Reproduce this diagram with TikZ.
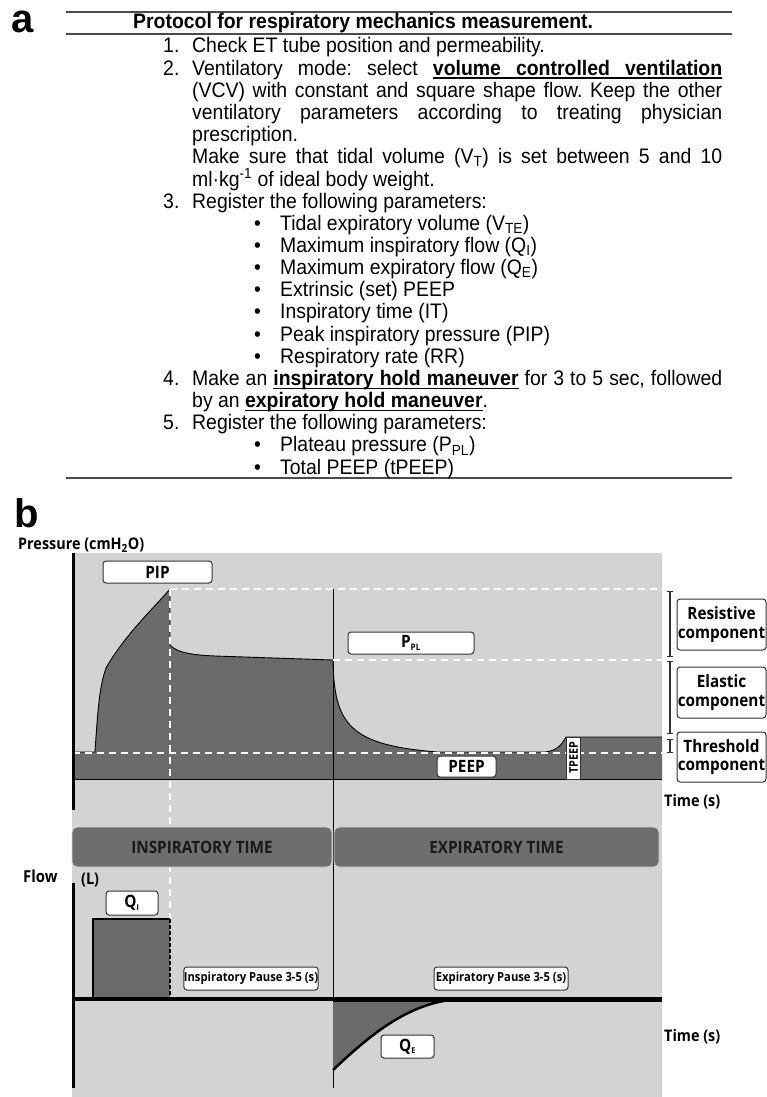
\documentclass[tikz,border=0pt]{standalone}
\usepackage{fontspec}
\setmainfont[FakeStretch=0.925]{Liberation Sans}
\newfontfamily\plainarial{Liberation Sans}
\newfontfamily\labfont[FakeStretch=0.9]{Open Sans}
\newcommand\ulw[1]{\setbox0\hbox{#1}\rlap{\vrule height -2.2pt depth 3.6pt width\wd0}\box0}
\newcommand\uls{\leaders\hrule height -2.2pt depth 3.6pt\hskip\fontdimen2\font plus\fontdimen3\font minus\fontdimen4\font\relax}
\frenchspacing
\usetikzlibrary{arrows.meta}
\definecolor{panel}{HTML}{D3D3D3}
\definecolor{darkfill}{HTML}{6B6B6B}
\definecolor{bandfill}{HTML}{6E6E6E}
\definecolor{rulegray}{HTML}{4A4A4A}
\definecolor{boxline}{HTML}{333333}
\tikzset{
  txt/.style={anchor=base west, inner sep=0pt, font=\fontsize{21}{22}\selectfont},
  panellabel/.style={font=\plainarial\fontsize{40}{40}\selectfont\bfseries, anchor=base west, inner sep=0pt},
  lab/.style={font=\labfont\bfseries\fontsize{16}{18}\selectfont, inner sep=0pt},
  wbox/.style={draw=boxline, fill=white, rounded corners=3pt, line width=1pt, inner sep=0pt,
     font=\labfont\bfseries\fontsize{17}{19}\selectfont, align=center},
  smallbox/.style={wbox, font=\labfont\bfseries\fontsize{12.5}{14}\selectfont},
  compbox/.style={wbox, minimum width=89pt, minimum height=51pt, font=\labfont\bfseries\fontsize{17}{18.5}\selectfont},
  band/.style={fill=bandfill, draw=white!85!black, line width=0.8pt, rounded corners=5pt,
     minimum height=40pt, inner sep=0pt, text=black!90, font=\labfont\bfseries\fontsize{17}{19}\selectfont},
  wdash/.style={white, line width=1.3pt, dash pattern=on 7pt off 5pt},
  ibar/.style={boxline, line width=1.2pt, {Bar[width=6pt]}-{Bar[width=6pt]}},
}
\begin{document}
\begin{tikzpicture}[x=1pt, y=-1pt]
\useasboundingbox (0,0) rectangle (767,1097);
\fill[white] (0,0) rectangle (767,1097);

% ---------------- part a ----------------
\node[panellabel] (lblA) at (11,33) {a};
\coordinate (r1a) at (66,12); \coordinate (r1b) at (732,12);
\coordinate (r2a) at (66,34); \coordinate (r2b) at (732,34);
\coordinate (r3a) at (66,478); \coordinate (r3b) at (732,478);
\draw[rulegray, line width=1.2pt] (r1a) -- (r1b);
\draw[rulegray, line width=1.2pt] (r2a) -- (r2b);
\draw[rulegray, line width=1.2pt] (r3a) -- (r3b);
\node[txt, font=\fontsize{21}{22}\selectfont\bfseries] (title) at (133,29) {Protocol for respiratory mechanics measurement.};

\node[txt] (n1) at (163,53) {1.};
\node[txt] (l0) at (192,53) {Check ET tube position and permeability.};
\node[txt] (n2) at (163,75.2) {2.};
\node[txt] (l1) at (192,75.2) {\makebox[530pt][s]{Ventilatory mode: select {\bfseries\ulw{volume}\uls\ulw{controlled}\uls\ulw{ventilation}}}};
\node[txt] (l2) at (192,97.3) {\makebox[530pt][s]{(VCV) with constant and square shape flow. Keep the other}};
\node[txt] (l3) at (192,119.5) {\makebox[530pt][s]{ventilatory parameters according to treating physician}};
\node[txt] (l4) at (192,141.6) {prescription.};
\node[txt] (l5) at (192,163.8) {\makebox[530pt][s]{Make sure that tidal volume (V\textsubscript{T}) is set between 5 and 10}};
\node[txt] (l6) at (192,186.0) {ml·kg\textsuperscript{-1} of ideal body weight.};
\node[txt] (n3) at (163,208.1) {3.};
\node[txt] (l7) at (192,208.1) {Register the following parameters:};
\node[txt] (d8) at (254,230.3) {•};  \node[txt] (l8) at (280,230.3) {Tidal expiratory volume (V\textsubscript{TE})};
\node[txt] (d9) at (254,252.4) {•};  \node[txt] (l9) at (280,252.4) {Maximum inspiratory flow (Q\textsubscript{I})};
\node[txt] (d10) at (254,274.6) {•}; \node[txt] (l10) at (280,274.6) {Maximum expiratory flow (Q\textsubscript{E})};
\node[txt] (d11) at (254,296.8) {•}; \node[txt] (l11) at (280,296.8) {Extrinsic (set) PEEP};
\node[txt] (d12) at (254,318.9) {•}; \node[txt] (l12) at (280,318.9) {Inspiratory time (IT)};
\node[txt] (d13) at (254,341.1) {•}; \node[txt] (l13) at (280,341.1) {Peak inspiratory pressure (PIP)};
\node[txt] (d14) at (254,363.2) {•}; \node[txt] (l14) at (280,363.2) {Respiratory rate (RR)};
\node[txt] (n4) at (163,385.4) {4.};
\node[txt] (l15) at (192,385.4) {\makebox[530pt][s]{Make an {\bfseries\ulw{inspiratory}\uls\ulw{hold}\uls\ulw{maneuver}} for 3 to 5 sec, followed}};
\node[txt] (l16) at (192,407.6) {by an {\bfseries\ulw{expiratory}\uls\ulw{hold}\uls\ulw{maneuver}}.};
\node[txt] (n5) at (163,429.7) {5.};
\node[txt] (l17) at (192,429.7) {Register the following parameters:};
\node[txt] (d18) at (254,451.9) {•}; \node[txt] (l18) at (280,451.9) {Plateau pressure (P\textsubscript{PL})};
\node[txt] (d19) at (254,474.0) {•}; \node[txt] (l19) at (280,474.0) {Total PEEP (tPEEP)};

% ---------------- part b ----------------
\node[panellabel] (lblB) at (14,527) {b};
\node[lab, anchor=west] (pressure) at (18,545) {Pressure (cmH\textsubscript{2}O)};

\fill[panel] (72,553) rectangle (662,1097);

% pressure waveform
\fill[darkfill] (73,752) -- (95,752) .. controls (98,705) and (100,685) .. (106,668)
  .. controls (125,635) and (150,612) .. (170,589) -- (170,645)
  .. controls (176,652) and (190,655) .. (215,656) -- (333,660)
  .. controls (334,725) and (350,745) .. (437,752) -- (545,752)
  .. controls (556,751) and (561,746) .. (566,737) -- (662,737) -- (662,779) -- (73,779) -- cycle;
\draw[black, line width=0.9pt] (73,752) -- (95,752) .. controls (98,705) and (100,685) .. (106,668)
  .. controls (125,635) and (150,612) .. (170,589) -- (170,645)
  .. controls (176,652) and (190,655) .. (215,656) -- (333,660)
  .. controls (334,725) and (350,745) .. (437,752) -- (545,752)
  .. controls (556,751) and (561,746) .. (566,737) -- (662,737);
\draw[black, line width=0.9pt] (73,779) -- (662,779);

% vertical separator
\coordinate (vtop) at (333,589); \coordinate (vbot) at (333,1088);
\draw[black, line width=0.9pt] (vtop) -- (vbot);

% dashed reference lines
\draw[wdash] (170,589) -- (662,589);
\draw[wdash] (333,660) -- (662,660);
\draw[wdash] (73,753) -- (662,753);
\draw[wdash] (170,589) -- (170,919);

% boxes on pressure plot
\node[wbox, minimum width=109pt, minimum height=22pt] (pip) at (157.5,572) {PIP};
\node[wbox, minimum width=126pt, minimum height=22pt] (ppl) at (411,643) {P\textsubscript{\fontsize{9}{9}\selectfont PL}};
\node[wbox, minimum width=59pt, minimum height=21pt] (peep) at (466.5,766.5) {PEEP};
\node[draw=boxline, fill=white, line width=0.8pt, minimum width=14pt, minimum height=42pt, inner sep=0pt] (tpeepbox) at (573,758) {};
\node[rotate=90, inner sep=0pt, font=\labfont\bfseries\fontsize{12}{12}\selectfont] (tpeep) at (573.5,758) {TPEEP};

% axes
\draw[black, line width=3.2pt] (73.5,553) -- (73.5,810);
\node[lab, anchor=west] (time1) at (664,802) {Time (s)};

% component brackets and boxes
\draw[ibar] (670,591) -- (670,657);
\draw[ibar] (670,661) -- (670,734);
\draw[ibar] (670,739) -- (670,753);
\node[compbox] (res) at (721.5,624.5) {Resistive\\component};
\node[compbox] (ela) at (721.5,692.5) {Elastic\\component};
\node[compbox, minimum height=50pt] (thr) at (721.5,757) {Threshold\\component};

% time bands
\node[band, minimum width=260pt] (insp) at (202,847) {INSPIRATORY TIME};
\node[band, minimum width=325pt] (expi) at (496.5,847) {EXPIRATORY TIME};

% flow plot
\node[lab, anchor=west, font=\labfont\bfseries\fontsize{16.5}{18}\selectfont] (flow) at (23,876) {Flow};
\node[lab, anchor=west] (litre) at (81,880) {(L)};
\draw[black, line width=3.2pt] (73.5,883) -- (73.5,1088);

\fill[darkfill] (93,919) rectangle (170,999);
\draw[black, line width=1.5pt] (93,999) -- (93,919) -- (170,919);
\draw[black, line width=1.5pt, dash pattern=on 4pt off 2pt] (170,919) -- (170,999);

\fill[darkfill] (333,999) -- (333,1070) .. controls (370,1035) and (410,1001) .. (461,999) -- cycle;
\draw[black, line width=2.5pt] (333,1070) .. controls (370,1035) and (410,1001) .. (461,999);

\draw[black, line width=3.5pt] (73,999) -- (333,999);
\draw[black, line width=5pt] (333,999) -- (662,999);

\node[wbox, minimum width=52pt, minimum height=24pt] (qi) at (132,903) {Q\textsubscript{\fontsize{8}{8}\selectfont I}};
\node[smallbox, minimum width=132pt, minimum height=23pt] (ipause) at (251,978.5) {Inspiratory Pause 3-5 (s)};
\node[smallbox, minimum width=134pt, minimum height=23pt] (epause) at (501,978.5) {Expiratory Pause 3-5 (s)};
\node[wbox, minimum width=53pt, minimum height=23pt] (qe) at (407.5,1046.5) {Q\textsubscript{\fontsize{8}{8}\selectfont E}};
\node[lab, anchor=west] (time2) at (664,1037) {Time (s)};
\end{tikzpicture}
\end{document}
